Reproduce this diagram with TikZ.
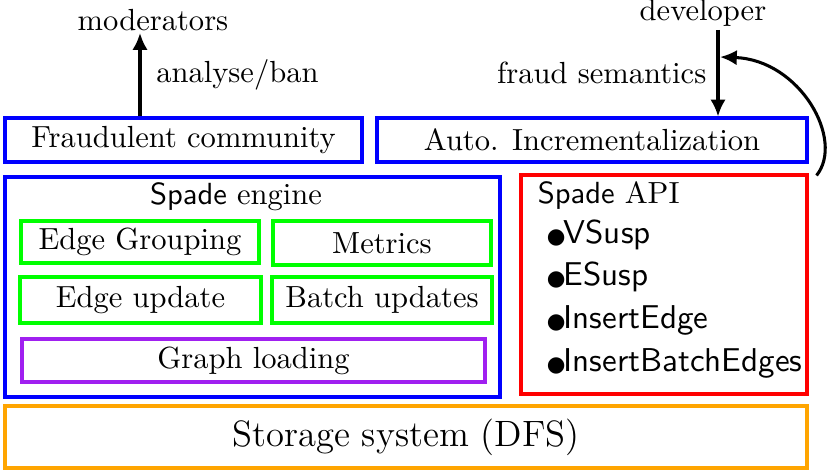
\documentclass[tikz,border=0pt]{standalone}
\usepackage{amsmath}
\usepackage{fontspec}
\usepackage{tikz}
\usetikzlibrary{arrows.meta}
\newfontfamily\dotfont{DejaVu Sans}
\definecolor{violetline}{RGB}{160,32,240}
\definecolor{orangeline}{RGB}{255,165,0}

\begin{document}
\begin{tikzpicture}[x=0.0115cm,y=-0.0115cm,
    blk/.style n args={3}{draw=#1,line width=1pt,inner sep=0pt,
        minimum width=#2*0.0115cm,minimum height=#3*0.0115cm},
    flow/.style={line width=1pt,-{Latex[length=5.5pt,width=5pt]}}]
    \useasboundingbox (0,0) rectangle (830,471);
    \node[blk={blue}{357}{44}] (fraud) at (183.5,140) {Fraudulent community};
    \node[blk={blue}{430}{44}] (incr) at (592,140) {Auto. Incrementalization};
    \node[blk={blue}{495}{220}] (engine) at (252.5,287) {};
    \node (enginelbl) at (236,197) {\textsf{Spade} engine};
    \node[blk={green}{238}{42}] (group) at (140,242) {Edge Grouping};
    \node[blk={green}{218}{44}] (metrics) at (382,243) {Metrics};
    \node[blk={green}{241}{46}] (update) at (140.5,300) {Edge update};
    \node[blk={green}{220}{46}] (batch) at (382,300) {Batch updates};
    \node[blk={violetline}{463}{43}] (load) at (253.5,360.5) {Graph loading};
    \node[blk={red}{286}{219}] (api) at (664,284.5) {};
    \node[anchor=west] (apilbl) at (527,196) {\textsf{Spade} API};
    \foreach \y/\t [count=\i] in {235/VSusp,277/ESusp,320/InsertEdge,363/InsertBatchEdges}
    \node[anchor=west,font=\fontsize{10.8}{13}\sffamily] (item\i) at (536,\y) {{\dotfont\fontsize{7}{9}\selectfont ●}\kern-0.6pt\t};
    \node[blk={orangeline}{802}{62},font=\large] (store) at (406,437) {Storage system (DFS)};
    \node (mod) at (153,20) {moderators};
    \node (dev) at (703,13) {developer};
    % arrows
    \coordinate (modin) at (140,33);
    \draw[flow] (fraud.north -| modin) -- (modin) node[midway,right,xshift=1.5pt] {analyse/ban};
    \coordinate (devout) at (718,30);
    \draw[flow] (devout) -- (incr.north -| devout) node[midway,left] {fraud semantics};
    \coordinate (semin) at (720,57);
    \draw[flow] ([shift={(8,2)}]api.north east) .. controls (845,140) and (800,60) .. (semin);
\end{tikzpicture}
\end{document}
